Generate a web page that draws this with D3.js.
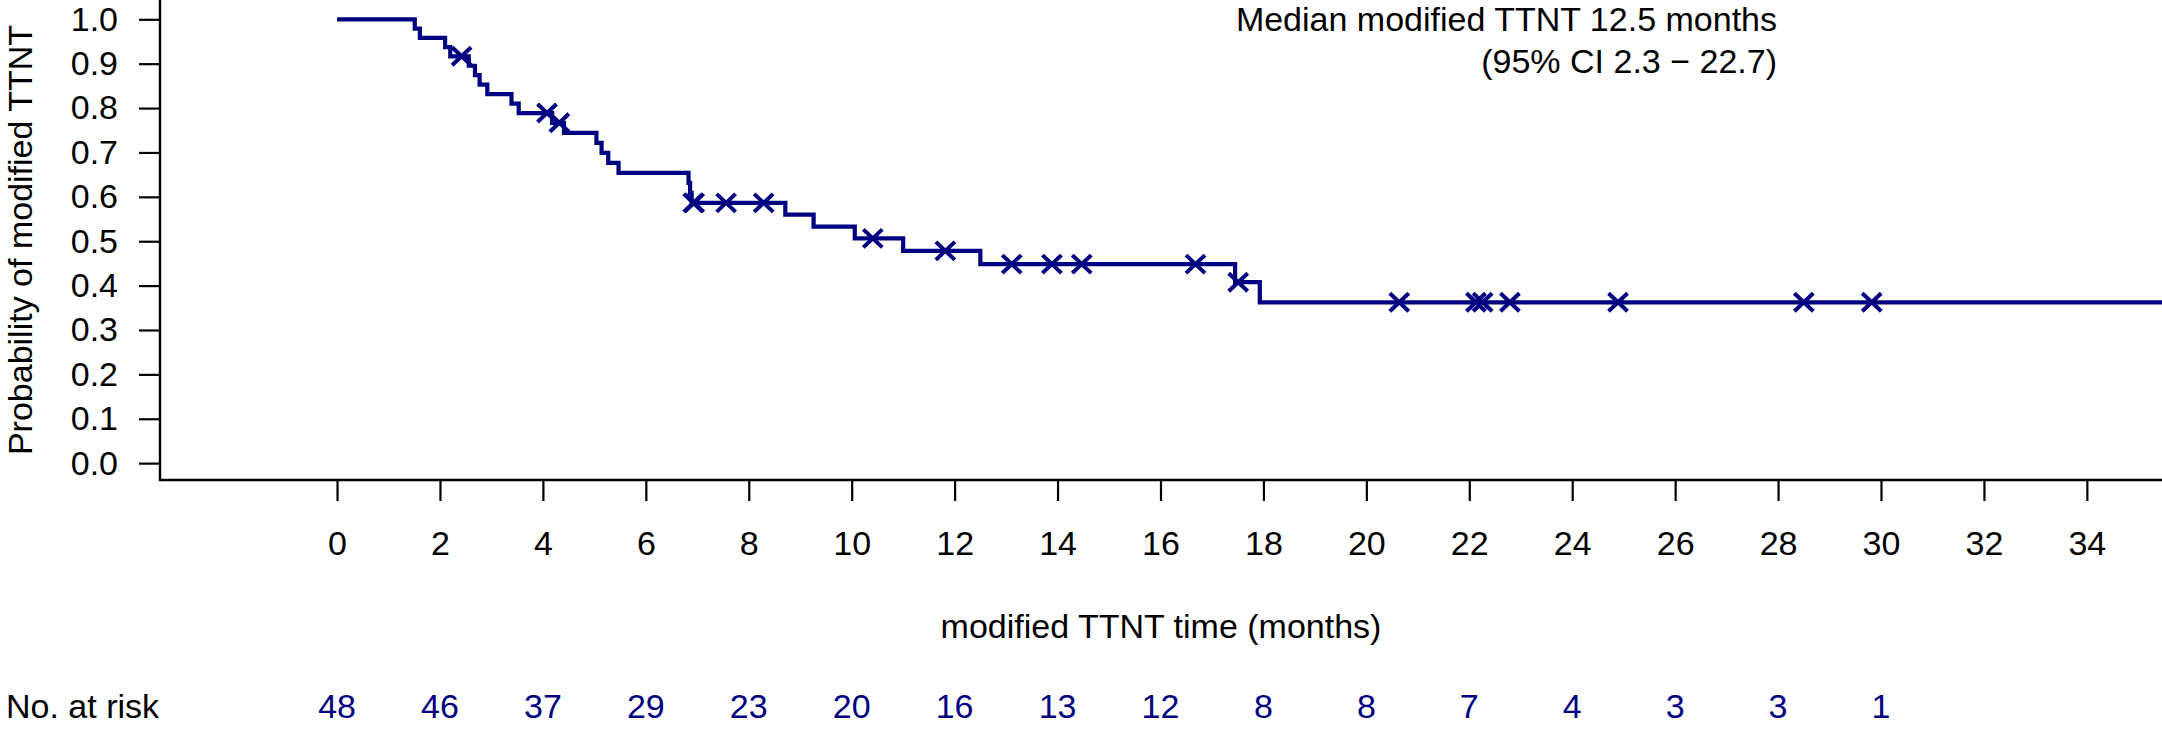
<!DOCTYPE html>
<html>
<head>
<meta charset="utf-8">
<script src="https://cdn.jsdelivr.net/npm/d3@7"></script>
<style>
  html, body { margin: 0; padding: 0; background: #fff; }
  svg { display: block; }
  text { font-family: "Liberation Sans", Arial, Helvetica, sans-serif; }
</style>
</head>
<body>
<svg id="chart" width="2162" height="730"></svg>
<script>
// ---- data ----
const eventTimes = [1.51, 1.61, 2.10, 2.20, 2.56, 2.68, 2.77, 2.92, 3.39, 3.53,
  4.18, 4.41, 5.04, 5.14, 5.27, 5.47, 6.83, 6.86, 6.89, 8.71, 9.26, 10.06,
  11.00, 12.50, 17.45, 17.93];
const censorTimes = [2.42, 4.08, 4.32, 6.92, 6.94, 7.56, 8.29, 10.41, 11.82,
  13.11, 13.89, 14.47, 16.68, 17.51, 20.64, 22.13, 22.26, 22.79, 24.89,
  28.50, 29.82, 36.50];
const xTicks = [0, 2, 4, 6, 8, 10, 12, 14, 16, 18, 20, 22, 24, 26, 28, 30, 32, 34];
const yTicks = [0.0, 0.1, 0.2, 0.3, 0.4, 0.5, 0.6, 0.7, 0.8, 0.9, 1.0];
const riskTimes = [0, 2, 4, 6, 8, 10, 12, 14, 16, 18, 20, 22, 24, 26, 28, 30];
const riskCounts = [48, 46, 37, 29, 23, 20, 16, 13, 12, 8, 8, 7, 4, 3, 3, 1];
const medianLines = ["Median modified TTNT 12.5 months", "(95% CI 2.3 \u2212 22.7)"];
const yTitle = "Probability of modified TTNT";
const xTitle = "modified TTNT time (months)";
const riskLabel = "No. at risk";

// ---- Kaplan-Meier estimate ----
const records = eventTimes.map(t => ({t, e: 1})).concat(censorTimes.map(t => ({t, e: 0})))
  .sort((a, b) => a.t - b.t || b.e - a.e);
let nRisk = records.length, S = 1;
const steps = [{t: 0, s: 1}];
const cens = [];
records.forEach(r => {
  if (r.e === 1) { S = S * (nRisk - 1) / nRisk; steps.push({t: r.t, s: S}); }
  else { cens.push({t: r.t, s: S}); }
  nRisk -= 1;
});

// ---- layout ----
const svg = d3.select("#chart");
const navy = "#000080";
const x = d3.scaleLinear().domain([-3.44, 35.46]).range([160, 2162]);
const y = d3.scaleLinear().domain([-0.038, 1.0435]).range([480, 0]);
const xMax = x.domain()[1];
steps.push({t: xMax, s: S});

svg.append("defs").append("clipPath").attr("id", "plotclip")
  .append("rect").attr("x", x.range()[0]).attr("y", 0)
  .attr("width", x.range()[1] - x.range()[0]).attr("height", y.range()[0]);

// axis frame (L shape)
svg.append("line").attr("x1", x.range()[0]).attr("x2", x.range()[1])
  .attr("y1", y.range()[0]).attr("y2", y.range()[0])
  .attr("stroke", "#000").attr("stroke-width", 2.4);
svg.append("line").attr("x1", x.range()[0]).attr("x2", x.range()[0])
  .attr("y1", y.range()[1]).attr("y2", y.range()[0] + 1.2)
  .attr("stroke", "#000").attr("stroke-width", 2.4);

// y axis
const yAxis = svg.append("g").attr("transform", `translate(${x.range()[0]},0)`)
  .call(d3.axisLeft(y).tickValues(yTicks).tickFormat(d3.format(".1f")).tickSize(21).tickPadding(21));
yAxis.select(".domain").remove();
yAxis.selectAll("line").attr("stroke", "#000").attr("stroke-width", 2.2);
yAxis.selectAll("text").attr("font-size", 34).attr("fill", "#000")
  .style("font-family", '"Liberation Sans", Arial, sans-serif');

// x axis
const xAxis = svg.append("g").attr("transform", `translate(0,${y.range()[0]})`)
  .call(d3.axisBottom(x).tickValues(xTicks).tickFormat(d3.format("d")).tickSize(21));
xAxis.select(".domain").remove();
xAxis.selectAll("line").attr("stroke", "#000").attr("stroke-width", 2.2);
xAxis.selectAll("text").attr("font-size", 34).attr("fill", "#000")
  .attr("y", 75).attr("dy", null)
  .style("font-family", '"Liberation Sans", Arial, sans-serif');

// titles
svg.append("text").attr("transform", `translate(32,${(y.range()[0] + y.range()[1]) / 2}) rotate(-90)`)
  .attr("text-anchor", "middle").attr("font-size", 34).attr("fill", "#000").text(yTitle);
svg.append("text").attr("x", (x.range()[0] + x.range()[1]) / 2).attr("y", 638)
  .attr("text-anchor", "middle").attr("font-size", 34).attr("fill", "#000").text(xTitle);

// median annotation
svg.selectAll("text.med").data(medianLines).enter().append("text").attr("class", "med")
  .attr("x", 1777).attr("y", (d, i) => 31 + i * 42)
  .attr("text-anchor", "end").attr("font-size", 34).attr("fill", "#000").text(d => d);

// KM curve
const plot = svg.append("g").attr("clip-path", "url(#plotclip)");
plot.append("path").datum(steps)
  .attr("d", d3.line().x(d => x(d.t)).y(d => y(d.s)).curve(d3.curveStepAfter))
  .attr("fill", "none").attr("stroke", navy).attr("stroke-width", 4.2)
  .attr("stroke-linejoin", "miter");

// censor marks
plot.selectAll("path.cens").data(cens.filter(d => d.t <= xMax)).enter().append("path")
  .attr("class", "cens")
  .attr("transform", d => `translate(${x(d.t)},${y(d.s)})`)
  .attr("d", "M-9.5,-9L9.5,9M-9.5,9L9.5,-9")
  .attr("stroke", navy).attr("stroke-width", 4).attr("fill", "none");

// number at risk
svg.append("text").attr("x", 6).attr("y", 718).attr("font-size", 34).attr("fill", "#000").text(riskLabel);
svg.selectAll("text.risk").data(riskTimes).enter().append("text").attr("class", "risk")
  .attr("x", d => x(d)).attr("y", 718).attr("text-anchor", "middle")
  .attr("font-size", 34).attr("fill", navy).text((d, i) => riskCounts[i]);
</script>
</body>
</html>
